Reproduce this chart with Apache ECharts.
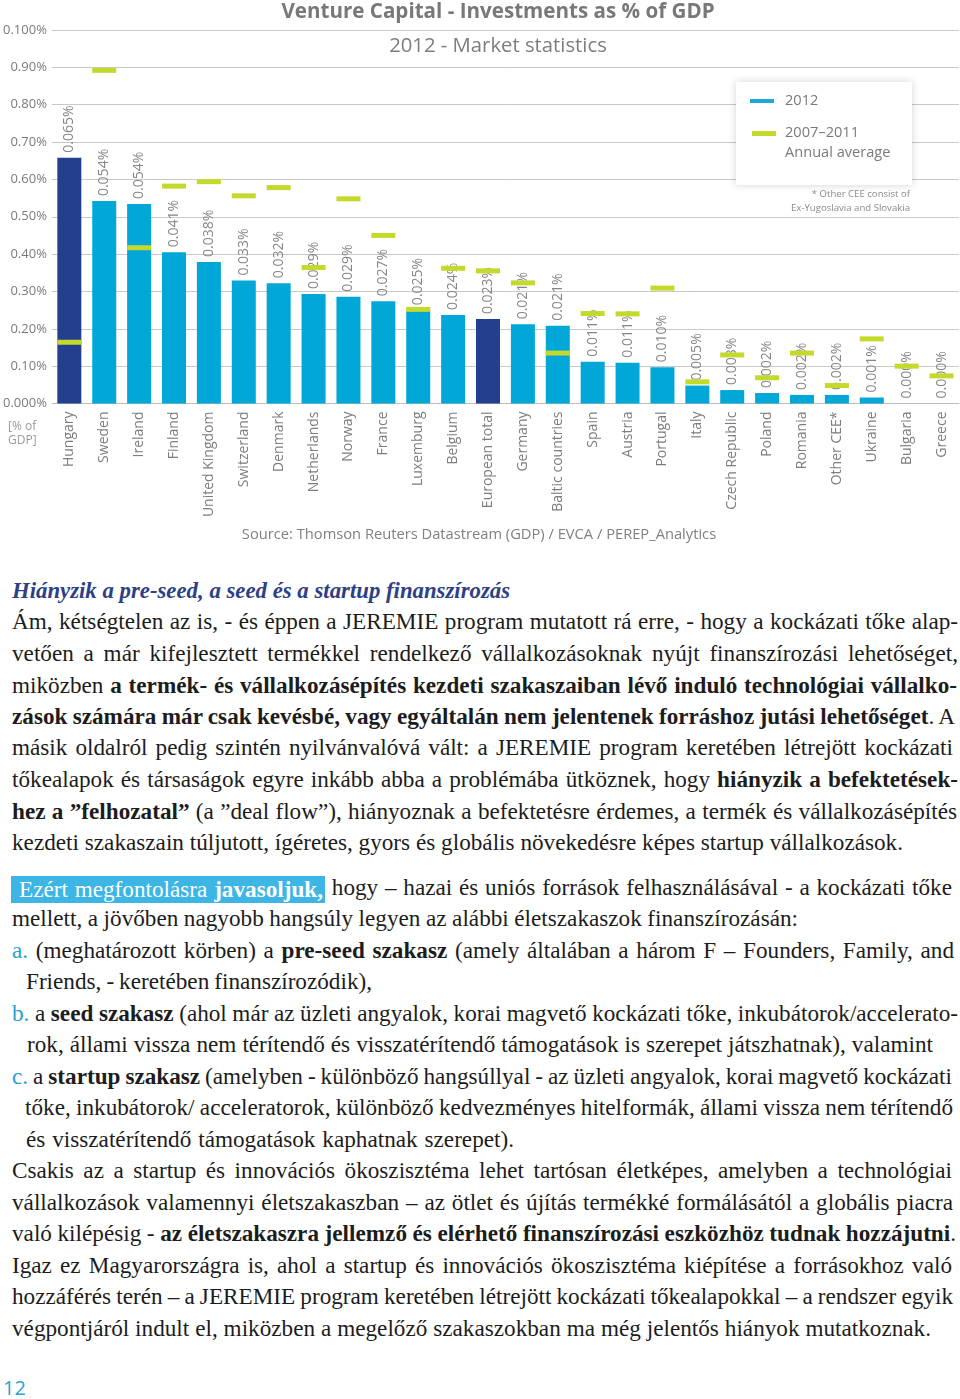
<!DOCTYPE html>
<html>
<head>
<meta charset="utf-8">
<script src="https://cdn.jsdelivr.net/npm/echarts@6/dist/echarts.min.js"></script>
<style>
  html, body { margin: 0; padding: 0; background: #fff; }
  body { width: 960px; height: 1399px; position: relative; overflow: hidden; }
  #chart { position: absolute; left: 0; top: 0; width: 960px; height: 560px; }
  .ln { position: absolute; height: 31.5px; line-height: 31.5px; white-space: nowrap;
        font-family: "Liberation Serif", serif; font-size: 21px; color: #1c1c1c; }
  .ln.h { font-style: italic; font-weight: bold; color: #2d3f86; }
  .hl { display: inline-block; background: #3db6e6; color: #fff; height: 27px; line-height: 27px;
        padding: 0 2px 0 8px; vertical-align: middle; }
  .c { color: #2a9fd6; }
  #pg { position: absolute; left: 3px; top: 1375px; font-family: "Open Sans", sans-serif;
        font-size: 20px; line-height: 26px; color: #2ba3d9; }
</style>
</head>
<body>
<div id="chart"></div>
<div id="text"></div>
<div id="pg">12</div>
<script>
// ---- chart data ----
const categories = ['Hungary','Sweden','Ireland','Finland','United Kingdom','Switzerland','Denmark','Netherlands','Norway','France','Luxemburg','Belgium','European total','Germany','Baltic countries','Spain','Austria','Portugal','Italy','Czech Republic','Poland','Romania','Other CEE*','Ukraine','Bulgaria','Greece'];
const values2012 = [0.658,0.542,0.534,0.405,0.379,0.329,0.322,0.293,0.286,0.274,0.250,0.237,0.226,0.212,0.208,0.112,0.109,0.097,0.048,0.036,0.028,0.023,0.023,0.016,0,0];
const avg2007_2011 = [0.164,0.892,0.417,0.582,0.594,0.556,0.578,0.364,0.548,0.450,0.252,0.362,0.355,0.323,0.135,0.241,0.240,0.309,0.058,0.130,0.069,0.135,0.048,0.173,0.100,0.074];
const valueLabels = ['0.065%','0.054%','0.054%','0.041%','0.038%','0.033%','0.032%','0.029%','0.029%','0.027%','0.025%','0.024%','0.023%','0.021%','0.021%','0.011%','0.011%','0.010%','0.005%','0.003%','0.002%','0.002%','0.002%','0.001%','0.000%','0.000%'];
const yTickLabels = ['0.000%','0.10%','0.20%','0.30%','0.40%','0.50%','0.60%','0.70%','0.80%','0.90%','0.100%'];
const darkCategories = ['Hungary','European total'];

const FONT = '"Open Sans", sans-serif';
const chart = echarts.init(document.getElementById('chart'), null, { renderer: 'canvas' });
chart.setOption({
  animation: false,
  textStyle: { fontFamily: FONT },
  grid: { left: 49, top: 30, width: 910, height: 373.5 },
  xAxis: {
    type: 'category', data: categories,
    axisLine: { lineStyle: { color: '#bdbdbd', width: 1 } },
    axisTick: { show: false },
    axisLabel: { rotate: 90, fontSize: 14, color: '#7d7d7d', margin: 8, fontFamily: FONT, interval: 0 }
  },
  yAxis: {
    type: 'value', min: 0, max: 1, interval: 0.1,
    axisLine: { show: false }, axisTick: { show: false },
    splitLine: { lineStyle: { color: '#c9c9c9', width: 1 } },
    axisLabel: { fontSize: 13, color: '#7a7a7a', margin: 5, fontFamily: FONT,
      formatter: v => yTickLabels[Math.round(v * 10)] }
  },
  series: [
    {
      name: '2012', type: 'bar', barWidth: 24, z: 2,
      data: values2012.map((v, i) => ({ value: v,
        itemStyle: { color: darkCategories.includes(categories[i]) ? '#243f8d' : '#00a7d7' } })),
      label: { show: true, position: 'top', rotate: 90, align: 'left', verticalAlign: 'middle',
        distance: 5, fontSize: 14, color: '#858585', fontFamily: FONT,
        formatter: p => valueLabels[p.dataIndex] }
    },
    {
      name: '2007–2011 Annual average', type: 'scatter', z: 10, silent: true,
      symbol: 'rect', symbolSize: [24, 5],
      itemStyle: { color: '#c5d92d', opacity: 1 },
      data: avg2007_2011
    }
  ],
  graphic: [
    { type: 'text', x: 498, y: 12, z: 100, style: { text: 'Venture Capital - Investments as % of GDP',
      font: 'bold 20.6px ' + FONT, fill: '#787878', align: 'center', verticalAlign: 'middle' } },
    { type: 'text', x: 498, y: 46, z: 100, style: { text: '2012 - Market statistics',
      font: '20.3px ' + FONT, fill: '#7d7d7d', align: 'center', verticalAlign: 'middle' } },
    { type: 'rect', z: 100, shape: { x: 736, y: 82, width: 176, height: 103 },
      style: { fill: '#fff', shadowBlur: 8, shadowColor: 'rgba(0,0,0,0.18)' } },
    { type: 'rect', z: 101, shape: { x: 750, y: 99, width: 24, height: 4 }, style: { fill: '#1ca9d8' } },
    { type: 'text', x: 785, y: 101, z: 101, style: { text: '2012', font: '14.6px ' + FONT, fill: '#7a7a7a', verticalAlign: 'middle' } },
    { type: 'rect', z: 101, shape: { x: 752, y: 131, width: 24, height: 5 }, style: { fill: '#c5d92d' } },
    { type: 'text', x: 785, y: 133, z: 101, style: { text: '2007–2011', font: '14.6px ' + FONT, fill: '#7a7a7a', verticalAlign: 'middle' } },
    { type: 'text', x: 785, y: 153, z: 101, style: { text: 'Annual average', font: '14.6px ' + FONT, fill: '#7a7a7a', verticalAlign: 'middle' } },
    { type: 'text', x: 910, y: 194, z: 101, style: { text: '* Other CEE consist of', font: '9.6px ' + FONT, fill: '#8a8a8a', align: 'right', verticalAlign: 'middle' } },
    { type: 'text', x: 910, y: 208, z: 101, style: { text: 'Ex-Yugoslavia and Slovakia', font: '9.6px ' + FONT, fill: '#8a8a8a', align: 'right', verticalAlign: 'middle' } },
    { type: 'text', x: 8, y: 427, z: 100, style: { text: '[% of', font: '12px ' + FONT, fill: '#9a9a9a', verticalAlign: 'middle' } },
    { type: 'text', x: 8, y: 441, z: 100, style: { text: 'GDP]', font: '12px ' + FONT, fill: '#9a9a9a', verticalAlign: 'middle' } },
    { type: 'text', x: 479, y: 535, z: 100, style: { text: 'Source: Thomson Reuters Datastream (GDP) / EVCA / PEREP_Analytics',
      font: '14.7px ' + FONT, fill: '#808080', align: 'center', verticalAlign: 'middle' } }
  ]
});

// ---- body text ----
const lines = [
 {y:591, x:12, end:510, cls:'h', last:true, html:'Hiányzik a pre-seed, a seed és a startup finanszírozás'},
 {y:622, x:12, end:958, html:'Ám, kétségtelen az is, - és éppen a JEREMIE program mutatott rá erre, - hogy a kockázati tőke alap-'},
 {y:654, x:12, end:958, html:'vetően a már kifejlesztett termékkel rendelkező vállalkozásoknak nyújt finanszírozási lehetőséget,'},
 {y:686, x:12, end:957, html:'miközben <b>a termék- és vállalkozásépítés kezdeti szakaszaiban lévő induló technológiai vállalko-</b>'},
 {y:717, x:12, end:955, html:'<b>zások számára már csak kevésbé, vagy egyáltalán nem jelentenek forráshoz jutási lehetőséget</b>. A'},
 {y:748, x:12, end:953, html:'másik oldalról pedig szintén nyilvánvalóvá vált: a JEREMIE program keretében létrejött kockázati'},
 {y:780, x:12, end:958, html:'tőkealapok és társaságok egyre inkább abba a problémába ütköznek, hogy <b>hiányzik a befektetések-</b>'},
 {y:812, x:12, end:957, html:'<b>hez a ”felhozatal”</b> (a ”deal flow”), hiányoznak a befektetésre érdemes, a termék és vállalkozásépítés'},
 {y:843, x:12, end:903, last:true, html:'kezdeti szakaszain túljutott, ígéretes, gyors és globális növekedésre képes startup vállalkozások.'},
 {y:888, x:11, end:952, html:'<span class="hl">Ezért megfontolásra <b>javasoljuk,</b></span> hogy – hazai és uniós források felhasználásával - a kockázati tőke'},
 {y:919, x:12, end:798, last:true, html:'mellett, a jövőben nagyobb hangsúly legyen az alábbi életszakaszok finanszírozásán:'},
 {y:951, x:12, end:954, html:'<span class="c">a.</span> (meghatározott körben) a <b>pre-seed szakasz</b> (amely általában a három F – Founders, Family, and'},
 {y:982, x:26, end:372, last:true, html:'Friends, - keretében finanszírozódik),'},
 {y:1014, x:12, end:958, html:'<span class="c">b.</span> a <b>seed szakasz</b> (ahol már az üzleti angyalok, korai magvető kockázati tőke, inkubátorok/accelerato-'},
 {y:1045, x:27, end:933, last:true, html:'rok, állami vissza nem térítendő és visszatérítendő támogatások is szerepet játszhatnak), valamint'},
 {y:1077, x:12, end:952, html:'<span class="c">c.</span> a <b>startup szakasz</b> (amelyben - különböző hangsúllyal - az üzleti angyalok, korai magvető kockázati'},
 {y:1108, x:25, end:953, html:'tőke, inkubátorok/ acceleratorok, különböző kedvezményes hitelformák, állami vissza nem térítendő'},
 {y:1140, x:26, end:514, last:true, html:'és visszatérítendő támogatások kaphatnak szerepet).'},
 {y:1171, x:12, end:952, html:'Csakis az a startup és innovációs ökoszisztéma lehet tartósan életképes, amelyben a technológiai'},
 {y:1203, x:12, end:953, html:'vállalkozások valamennyi életszakaszban – az ötlet és újítás termékké formálásától a globális piacra'},
 {y:1234, x:12, end:956, html:'való kilépésig - <b>az életszakaszra jellemző és elérhető finanszírozási eszközhöz tudnak hozzájutni</b>.'},
 {y:1266, x:12, end:952, html:'Igaz ez Magyarországra is, ahol a startup és innovációs ökoszisztéma kiépítése a forrásokhoz való'},
 {y:1297, x:12, end:953, html:'hozzáférés terén – a JEREMIE program keretében létrejött kockázati tőkealapokkal – a rendszer egyik'},
 {y:1329, x:12, end:931, last:true, html:'végpontjáról indult el, miközben a megelőző szakaszokban ma még jelentős hiányok mutatkoznak.'}
];
const host = document.getElementById('text');
const BASE = 21;
const els = lines.map(l => {
  const d = document.createElement('div');
  d.className = 'ln' + (l.cls ? ' ' + l.cls : '');
  d.style.left = l.x + 'px';
  d.style.top = (l.y - 15.75) + 'px';
  const s = document.createElement('span');
  s.innerHTML = l.html;
  d.appendChild(s);
  host.appendChild(d);
  return { l, d, s };
});
// choose a font size so paragraph-final lines (natural spacing) match their reference width
const ratios = els.filter(e => e.l.last && !e.l.cls).map(e => (e.l.end - e.l.x) / e.s.getBoundingClientRect().width);
const bodyRatio = ratios.reduce((a, b) => a + b, 0) / ratios.length;
const bodySize = Math.min(24, BASE * bodyRatio);
els.forEach(e => {
  let size = bodySize;
  if (e.l.cls) size = Math.min(24, BASE * (e.l.end - e.l.x) / e.s.getBoundingClientRect().width);
  e.d.style.fontSize = size + 'px';
});
els.forEach(e => {
  const w = e.s.getBoundingClientRect().width;
  const n = (e.s.textContent.match(/ /g) || []).length;
  if (n) e.s.style.wordSpacing = ((e.l.end - e.l.x - w) / n) + 'px';
});
</script>
</body>
</html>
